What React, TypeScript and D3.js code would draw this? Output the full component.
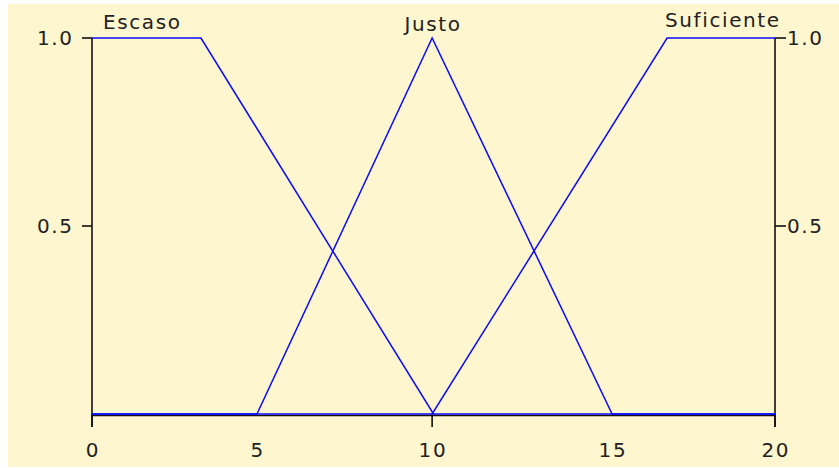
import React from "react";
import * as d3 from "d3";

const W = 839;
const H = 468;

// membership functions (x, degree)
const escaso: [number, number][] = [[0, 1], [3.19, 1], [10, 0], [20, 0]];
const justo: [number, number][] = [[0, 0], [4.83, 0], [9.96, 1], [15.23, 0], [20, 0]];
const suficiente: [number, number][] = [[0, 0], [9.96, 0], [16.84, 1], [20, 1]];
const series = [escaso, justo, suficiente];

const setNames = ["Escaso", "Justo", "Suficiente"];
const setLabelX = [1.45, 9.96, 18.45];
const setLabelY = [29, 31, 27];

const xTickPos = [0, 4.83, 9.96, 15.23, 20];
const xTickLabels = ["0", "5", "10", "15", "20"];
const xMarkTicks = [0, 9.96, 20];
const yTicks = [1.0, 0.5];
const yTickLabels = ["1.0", "0.5"];

const FONT = "'DejaVu Sans', sans-serif";
const LS = 1.6;

export default function App() {
  const x = d3.scaleLinear().domain([0, 20]).range([92, 775]);
  const y = d3.scaleLinear().domain([0, 1]).range([414, 38]);
  const line = d3
    .line<[number, number]>()
    .x((d) => x(d[0]))
    .y((d) => y(d[1]));
  const axisBottom = 427;
  const txt = { fontFamily: FONT, fontSize: 20, fill: "#222", letterSpacing: LS } as React.CSSProperties;

  return (
    <svg
      width={W}
      height={H}
      style={{ position: "absolute", left: 0, top: 0, display: "block" }}
    >
      <rect x={0} y={0} width={W} height={H} fill="#ffffff" />
      <rect x={8} y={4} width={W - 8} height={H - 5} fill="#fdf6cf" />

      {/* axes */}
      <line x1={x(0)} x2={x(0)} y1={y(1)} y2={axisBottom} stroke="#111" strokeWidth={1.6} />
      <line x1={x(20)} x2={x(20)} y1={y(1)} y2={axisBottom} stroke="#111" strokeWidth={1.6} />
      <line x1={x(0)} x2={x(20)} y1={y(0) + 1.5} y2={y(0) + 1.5} stroke="#111" strokeWidth={1.6} />
      {xMarkTicks.map((v, i) => (
        <line key={i} x1={x(v)} x2={x(v)} y1={y(0)} y2={axisBottom} stroke="#111" strokeWidth={1.6} />
      ))}
      {yTicks.map((v, i) => (
        <g key={i}>
          <line x1={x(0) - 10} x2={x(0)} y1={y(v)} y2={y(v)} stroke="#111" strokeWidth={1.6} />
          <line x1={x(20)} x2={x(20) + 11} y1={y(v)} y2={y(v)} stroke="#111" strokeWidth={1.6} />
          <text x={x(0) - 20 + LS} y={y(v) + 7} textAnchor="end" style={txt}>
            {yTickLabels[i]}
          </text>
          <text x={x(20) + 12} y={y(v) + 7} textAnchor="start" style={txt}>
            {yTickLabels[i]}
          </text>
        </g>
      ))}
      {xTickPos.map((v, i) => (
        <text key={i} x={x(v) + LS / 2} y={457} textAnchor="middle" style={txt}>
          {xTickLabels[i]}
        </text>
      ))}

      {/* membership functions */}
      {series.map((s, i) => (
        <path key={i} d={line(s) || ""} fill="none" stroke="#0a0aff" strokeWidth={1.5} />
      ))}

      {setNames.map((n, i) => (
        <text key={i} x={x(setLabelX[i]) + LS / 2} y={setLabelY[i]} textAnchor="middle" style={txt}>
          {n}
        </text>
      ))}
    </svg>
  );
}
